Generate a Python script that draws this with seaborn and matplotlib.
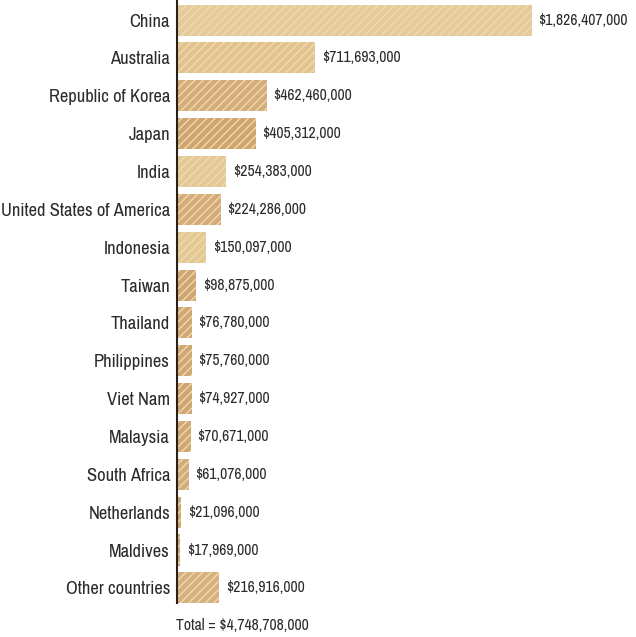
import matplotlib
matplotlib.use("Agg")
import matplotlib.pyplot as plt
import seaborn as sns
import pandas as pd

countries = ['China', 'Australia', 'Republic of Korea', 'Japan', 'India',
             'United States of America', 'Indonesia', 'Taiwan', 'Thailand',
             'Philippines', 'Viet Nam', 'Malaysia', 'South Africa', 'Netherlands',
             'Maldives', 'Other countries']
values = [1826407000, 711693000, 462460000, 405312000, 254383000,
          224286000, 150097000, 98875000, 76780000,
          75760000, 74927000, 70671000, 61076000, 21096000,
          17969000, 216916000]
total_label = 'Total = $4,748,708,000'

# wood-ish shades, one per bar
wood = ['#F0CE92', '#EDC684', '#E1B06E', '#DDA663', '#F0CB8C',
        '#E0AE6C', '#EFCB8C', '#DCA866', '#DDAA68',
        '#DDAA68', '#DCA866', '#DDAA68', '#DFAE6E', '#DCA866',
        '#DCA866', '#E3B272']

sns.set_style("white")
plt.rcParams['font.family'] = ['Archivo Narrow', 'DejaVu Sans']
plt.rcParams['font.stretch'] = 'condensed'
plt.rcParams['hatch.linewidth'] = 1.0

df = pd.DataFrame({'Country': countries, 'Value': values})

fig = plt.figure(figsize=(6.36, 6.37), dpi=100)
ax = fig.add_axes([177 / 636, 1 - 603 / 637, 443 / 636, 603 / 637])

sns.barplot(data=df, x='Value', y='Country', hue='Country', palette=wood,
            legend=False, width=0.82, ax=ax, orient='h')

for bar in ax.patches:
    bar.set_hatch('////')
    bar.set_edgecolor('#F4D8A6')
    bar.set_linewidth(0)

for i, v in enumerate(values):
    ax.text(v + 34e6, i, f'${v:,}', va='center', ha='left', fontsize=11.3, color='#2b2b2b')

ax.set_xlim(0, 1826407000 * 443 / 355)
ax.set_ylim(15.40, -0.53)
ax.set_xlabel('')
ax.set_ylabel('')
ax.set_xticks([])
ax.tick_params(axis='y', length=3, width=1, color='#333333', labelsize=13.3, labelcolor='#2b2b2b', pad=2)
for s in ['top', 'right', 'bottom']:
    ax.spines[s].set_visible(False)
ax.spines['left'].set_color('#2a2016')
ax.spines['left'].set_linewidth(1.5)

fig.text(176 / 636, 1 - 626 / 637, total_label, ha='left', va='center', fontsize=11.3, color='#2b2b2b')

fig.savefig('out.png', dpi=100)
